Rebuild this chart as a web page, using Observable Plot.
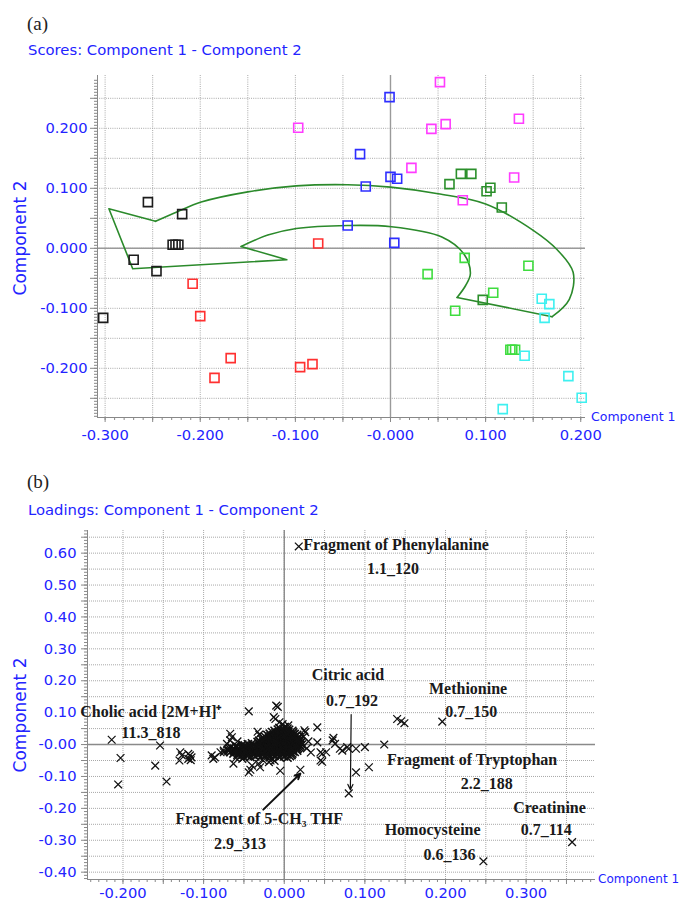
<!DOCTYPE html>
<html><head><meta charset="utf-8">
<script src="https://cdn.jsdelivr.net/npm/d3@7"></script>
<script src="https://cdn.jsdelivr.net/npm/@observablehq/plot@0.6"></script>
<style>
body{margin:0;background:#fff;}
#wrap{position:relative;width:681px;height:902px;overflow:hidden;background:#fff;}
#wrap > svg, #wrap > figure{position:absolute;left:0;margin:0;}
</style></head>
<body><div id="wrap"></div>
<script>
// ---------- Panel (a): scores ----------
const scoresBlack = [[-0.255,0.077],[-0.219,0.057],[-0.229,0.006],[-0.226,0.006],[-0.223,0.006],[-0.270,-0.019],[-0.246,-0.038],[-0.302,-0.116]];
const scoresRed = [[-0.208,-0.059],[-0.200,-0.113],[-0.168,-0.183],[-0.185,-0.216],[-0.095,-0.198],[-0.082,-0.193],[-0.076,0.008]];
const scoresBlue = [[-0.045,0.038],[-0.001,0.252],[-0.032,0.157],[0.000,0.119],[0.007,0.116],[-0.026,0.103],[0.004,0.009]];
const scoresMagenta = [[-0.097,0.201],[0.052,0.277],[0.043,0.199],[0.058,0.207],[0.135,0.216],[0.022,0.134],[0.130,0.118],[0.076,0.080]];
const scoresDarkGreen = [[0.062,0.107],[0.074,0.124],[0.085,0.124],[0.105,0.101],[0.101,0.095],[0.117,0.068],[0.097,-0.086]];
const scoresLime = [[0.078,-0.016],[0.039,-0.043],[0.145,-0.029],[0.108,-0.074],[0.068,-0.104],[0.126,-0.169],[0.128,-0.169],[0.131,-0.169]];
const scoresCyan = [[0.159,-0.084],[0.167,-0.093],[0.162,-0.116],[0.141,-0.179],[0.187,-0.213],[0.201,-0.249],[0.118,-0.268]];
const scoreGroups = [scoresBlack, scoresRed, scoresBlue, scoresMagenta, scoresDarkGreen, scoresLime, scoresCyan];
const scoreColors = ["#1c1c1c", "#ff3030", "#2e2eff", "#ff3cff", "#2b8f2b", "#3fdc3f", "#3ef0f0"];

// green arrow-shaped outline
const outlineOuterCurve = [[-0.247,0.045],[-0.224,0.061],[-0.199,0.077],[-0.150,0.094],[-0.099,0.104],[-0.045,0.106],[0.000,0.102],[0.050,0.091],[0.100,0.074],[0.150,0.030],[0.175,-0.002],[0.192,-0.040],[0.188,-0.085],[0.170,-0.114]];
const outlineInnerCurve = [[0.070,-0.082],[0.079,-0.062],[0.084,-0.042],[0.077,-0.009],[0.054,0.019],[0.001,0.036],[-0.045,0.038],[-0.099,0.033],[-0.129,0.022],[-0.157,0.003]];
const outlineStraight1 = [[0.170,-0.114],[0.070,-0.082]];
const outlineStraight2 = [[-0.157,0.003],[-0.109,-0.019],[-0.271,-0.034],[-0.296,0.066],[-0.247,0.045]];

const aXTicks = [-0.3,-0.2,-0.1,0,0.1,0.2];
const aXLabels = ["-0.300","-0.200","-0.100","-0.000","0.100","0.200"];
const aYTicks = [-0.2,-0.1,0,0.1,0.2];
const aYLabels = ["-0.200","-0.100","0.000","0.100","0.200"];
const aXDomain = [-0.308, 0.205];
const aYDomain = [-0.282, 0.288];

// ---------- Panel (b): loadings ----------
const loadingsCore = [
[-0.006,0.052],[0.000,0.054],[0.004,0.050],
[-0.008,0.047],[-0.001,0.048],[0.006,0.046],
[-0.012,0.043],[-0.004,0.044],[0.003,0.042],[0.010,0.043],
[-0.015,0.039],[-0.008,0.038],[-0.001,0.040],[0.005,0.039],[0.011,0.038],
[-0.018,0.034],[-0.011,0.035],[-0.005,0.033],[0.001,0.035],[0.007,0.034],[0.013,0.033],
[-0.021,0.030],[-0.014,0.029],[-0.007,0.031],[0.000,0.030],[0.005,0.029],[0.011,0.031],[0.016,0.030],
[-0.024,0.025],[-0.017,0.026],[-0.010,0.024],[-0.004,0.026],[0.002,0.025],[0.008,0.024],[0.014,0.026],[0.018,0.024],
[-0.026,0.021],[-0.019,0.020],[-0.012,0.022],[-0.006,0.021],[0.000,0.020],[0.006,0.022],[0.012,0.021],[0.017,0.020],
[-0.028,0.017],[-0.021,0.016],[-0.015,0.018],[-0.008,0.017],[-0.002,0.016],[0.004,0.018],[0.010,0.017],[0.016,0.016],[0.020,0.018],
[-0.031,0.012],[-0.024,0.013],[-0.017,0.011],[-0.010,0.012],[-0.004,0.013],[0.002,0.011],[0.008,0.012],[0.014,0.013],[0.019,0.011],
[-0.033,0.008],[-0.026,0.009],[-0.019,0.007],[-0.013,0.008],[-0.007,0.009],[-0.001,0.007],[0.005,0.008],[0.011,0.009],[0.017,0.007],[0.021,0.008],
[-0.040,0.004],[-0.029,0.005],[-0.022,0.003],[-0.016,0.004],[-0.009,0.005],[-0.003,0.003],[0.003,0.004],[0.009,0.005],[0.015,0.003],[0.020,0.004],
[-0.052,0.000],[-0.045,0.001],[-0.038,-0.001],[-0.031,0.000],[-0.024,0.001],[-0.018,-0.001],[-0.012,0.000],[-0.006,0.001],[0.000,-0.001],[0.006,0.000],[0.012,0.001],[0.018,-0.001],[0.022,0.000],
[-0.060,-0.004],[-0.049,-0.003],[-0.042,-0.005],[-0.035,-0.004],[-0.027,-0.003],[-0.021,-0.005],[-0.015,-0.004],[-0.009,-0.003],[-0.003,-0.005],[0.003,-0.004],[0.009,-0.003],[0.015,-0.005],[0.020,-0.004],
[-0.066,-0.008],[-0.059,-0.007],[-0.053,-0.009],[-0.046,-0.008],[-0.040,-0.007],[-0.034,-0.009],[-0.028,-0.008],[-0.022,-0.007],[-0.016,-0.009],[-0.010,-0.008],[-0.004,-0.007],[0.002,-0.009],[0.008,-0.008],[0.014,-0.007],[0.019,-0.009],
[-0.068,-0.012],[-0.062,-0.013],[-0.056,-0.011],[-0.049,-0.012],[-0.043,-0.013],[-0.037,-0.011],[-0.031,-0.012],[-0.025,-0.013],[-0.019,-0.011],[-0.013,-0.012],[-0.007,-0.013],[-0.001,-0.011],[0.005,-0.012],[0.011,-0.013],[0.017,-0.011],
[-0.070,-0.016],[-0.063,-0.017],[-0.057,-0.015],[-0.050,-0.016],[-0.044,-0.017],[-0.038,-0.015],[-0.032,-0.016],[-0.026,-0.017],[-0.020,-0.015],[-0.014,-0.016],[-0.008,-0.017],[-0.002,-0.015],[0.004,-0.016],[0.010,-0.017],[0.016,-0.015],
[-0.069,-0.020],[-0.062,-0.021],[-0.056,-0.019],[-0.049,-0.020],[-0.043,-0.021],[-0.037,-0.019],[-0.031,-0.020],[-0.025,-0.021],[-0.019,-0.019],[-0.013,-0.020],[-0.007,-0.021],[-0.001,-0.019],[0.005,-0.020],[0.011,-0.021],[0.016,-0.019],
[-0.067,-0.024],[-0.060,-0.023],[-0.054,-0.025],[-0.047,-0.024],[-0.041,-0.023],[-0.035,-0.025],[-0.029,-0.024],[-0.023,-0.023],[-0.017,-0.025],[-0.011,-0.024],[-0.005,-0.023],[0.001,-0.025],[0.007,-0.024],[0.013,-0.023],
[-0.063,-0.028],[-0.057,-0.027],[-0.051,-0.029],[-0.044,-0.028],[-0.038,-0.027],[-0.032,-0.029],[-0.026,-0.028],[-0.020,-0.027],[-0.014,-0.029],[-0.008,-0.028],[-0.002,-0.027],[0.004,-0.029],[0.010,-0.028],
[-0.058,-0.032],[-0.051,-0.031],[-0.045,-0.033],[-0.039,-0.032],[-0.033,-0.031],[-0.027,-0.033],[-0.021,-0.032],[-0.015,-0.031],[-0.009,-0.033],[-0.003,-0.032],[0.003,-0.031],[0.009,-0.033],
[-0.054,-0.036],[-0.046,-0.035],[-0.036,-0.037],[-0.024,-0.036],[-0.012,-0.035],[0.000,-0.037],[0.007,-0.036],
[-0.050,-0.040],[-0.042,-0.039],[-0.030,-0.041],[-0.018,-0.040],[-0.006,-0.039],[0.004,-0.041]
];
const loadingsScatter = [
[0.018,0.621],[-0.214,0.015],[-0.203,-0.042],[-0.206,-0.125],[-0.154,-0.003],[-0.160,-0.066],[-0.146,-0.116],
[-0.129,-0.024],[-0.127,-0.034],[-0.130,-0.050],[-0.119,-0.029],[-0.117,-0.034],[-0.119,-0.045],[-0.115,-0.040],[-0.116,-0.049],
[-0.090,-0.034],[-0.088,-0.045],[-0.086,-0.040],[-0.079,-0.024],[-0.075,-0.024],[-0.075,-0.019],
[-0.067,0.034],[-0.065,0.023],[-0.067,0.013],[-0.071,0.002],[-0.063,-0.060],[-0.044,0.104],
[-0.042,-0.079],[-0.044,-0.087],[-0.032,-0.060],[-0.030,-0.071],[-0.040,-0.066],[-0.019,-0.055],[-0.017,-0.050],[-0.015,-0.045],
[-0.005,-0.082],[-0.012,-0.051],[-0.026,-0.050],[-0.031,0.031],[-0.033,0.040],
[-0.010,0.122],[-0.008,0.118],[-0.013,0.086],[-0.011,0.080],[-0.006,0.070],[-0.002,0.064],[0.001,0.056],[0.005,0.060],
[0.026,0.039],[0.024,0.025],[0.041,0.054],[0.041,0.007],[0.030,0.010],[0.028,-0.012],[0.033,-0.025],[0.025,0.045],
[0.045,-0.024],[0.047,-0.029],[0.052,-0.024],[0.045,-0.050],[0.047,-0.054],[0.060,0.013],[0.061,0.021],[0.063,0.002],
[0.069,-0.013],[0.072,-0.019],[0.078,-0.008],[0.080,-0.013],[0.089,-0.013],[0.100,-0.008],[0.124,0.000],
[0.089,-0.087],[0.105,-0.071],[0.080,-0.153],[0.020,-0.079],
[0.140,0.080],[0.145,0.073],[0.149,0.067],[0.196,0.072],[0.247,-0.366],[0.357,-0.306],
[-0.052,-0.045],[-0.060,-0.042],[-0.058,0.010]
];
const loadingsLabels = [
  {text:"Fragment of Phenylalanine", x:0.0235, y:0.611, anchor:"start"},
  {text:"1.1_120", x:0.135, y:0.536, anchor:"middle"},
  {text:"Citric acid", x:0.079, y:0.201, anchor:"middle"},
  {text:"0.7_192", x:0.084, y:0.122, anchor:"middle"},
  {text:"Methionine", x:0.228, y:0.160, anchor:"middle"},
  {text:"0.7_150", x:0.232, y:0.085, anchor:"middle"},
  {text:"Cholic acid [2M+H]\u207A", x:-0.253, y:0.085, anchor:"start"},
  {text:"11.3_818", x:-0.202, y:0.019, anchor:"start"},
  {text:"Fragment of Tryptophan", x:0.233, y:-0.063, anchor:"middle"},
  {text:"2.2_188", x:0.251, y:-0.138, anchor:"middle"},
  {text:"Creatinine", x:0.329, y:-0.213, anchor:"middle"},
  {text:"0.7_114", x:0.325, y:-0.285, anchor:"middle"},
  {text:"Homocysteine", x:0.184, y:-0.285, anchor:"middle"},
  {text:"0.6_136", x:0.205, y:-0.361, anchor:"middle"},
  {text:"Fragment of 5-CH\u2083 THF", x:-0.031, y:-0.248, anchor:"middle"},
  {text:"2.9_313", x:-0.055, y:-0.326, anchor:"middle"}
];
const loadingsArrows = [
  {x1:0.083, y1:0.094, x2:0.082, y2:-0.142, w:1.2},
  {x1:-0.026, y1:-0.204, x2:0.020, y2:-0.091, w:2}
];
const bXTicks = [-0.2,-0.1,0,0.1,0.2,0.3];
const bXLabels = ["-0.200","-0.100","0.000","0.100","0.200","0.300"];
const bYTicks = [-0.4,-0.3,-0.2,-0.1,0,0.1,0.2,0.3,0.4,0.5,0.6];
const bYLabels = ["-0.40","-0.30","-0.20","-0.10","-0.00","0.10","0.20","0.30","0.40","0.50","0.60"];
const bXDomain = [-0.244, 0.386];
const bYDomain = [-0.423, 0.671];

// ---------- helpers ----------
const BLUE = "#2323ff";
const GRIDC = "#a8a8a8";
const fmt = (ticks, labels) => { const m = new Map(ticks.map((t, i) => [t, labels[i]])); return d => m.get(d) ?? ""; };
const step = (a, b, s) => d3.range(Math.round(a / s), Math.round(b / s) + 1).map(k => +(k * s).toFixed(4));

// ---------- build panel a ----------
const scoreRows = scoreGroups.flatMap((g, gi) => g.map(([x, y]) => ({x, y, color: scoreColors[gi]})));
const curveRows = [
  ...outlineOuterCurve.map(([x, y]) => ({x, y, s: "outer"})),
  ...outlineInnerCurve.map(([x, y]) => ({x, y, s: "inner"}))
];
const straightRows = [
  ...outlineStraight1.map(([x, y]) => ({x, y, s: "a"})),
  ...outlineStraight2.map(([x, y]) => ({x, y, s: "b"}))
];

const plotA = Plot.plot({
  width: 681, height: 385,
  marginLeft: 97, marginRight: 96, marginTop: 15, marginBottom: 28,
  x: {domain: aXDomain}, y: {domain: aYDomain},
  color: {type: "identity"},
  style: {fontFamily: "DejaVu Sans", fontSize: "14.7px", background: "transparent", overflow: "visible"},
  marks: [
    Plot.gridX({ticks: step(-0.3, 0.2, 0.05), stroke: GRIDC, strokeOpacity: 1, strokeDasharray: "1,1.2"}),
    Plot.gridY({ticks: step(-0.25, 0.25, 0.05), stroke: GRIDC, strokeOpacity: 1, strokeDasharray: "1,1.2"}),
    Plot.ruleX([0], {stroke: "#9a9a9a", strokeWidth: 1.4}),
    Plot.ruleY([0], {stroke: "#9a9a9a", strokeWidth: 1.4}),
    Plot.ruleX([aXDomain[0]], {stroke: "#888"}),
    Plot.ruleY([aYDomain[0]], {stroke: "#888"}),
    Plot.axisY({ticks: step(-0.28, 0.28, 0.005), tickSize: 3, tickFormat: () => "", stroke: "#888", label: null}),
    Plot.axisY({ticks: step(-0.25, 0.25, 0.05), tickSize: 7, tickPadding: 3, tickFormat: fmt(aYTicks, aYLabels), stroke: "#888", fill: BLUE, label: null}),
    Plot.axisX({ticks: step(-0.30, 0.20, 0.01), tickSize: 3, tickFormat: () => "", stroke: "#888", label: null}),
    Plot.axisX({ticks: step(-0.30, 0.20, 0.05), tickSize: 5, tickPadding: 7, tickFormat: fmt(aXTicks, aXLabels), stroke: "#888", fill: BLUE, label: null}),
    Plot.line(curveRows, {x: "x", y: "y", z: "s", curve: "catmull-rom", stroke: "#2b8a2b", strokeWidth: 1.6}),
    Plot.line(straightRows, {x: "x", y: "y", z: "s", stroke: "#2b8a2b", strokeWidth: 1.6}),
    Plot.dot(scoreRows, {x: "x", y: "y", symbol: "square", r: 5.1, stroke: "color", fill: "none", strokeWidth: 1.6})
  ]
});
plotA.style.position = "absolute"; plotA.style.top = "60px"; plotA.style.left = "0px";

// ---------- build panel b ----------
const coreRows = loadingsCore.map(([x, y]) => ({x, y}));
const scatterRows = loadingsScatter.map(([x, y]) => ({x, y}));
const labelFont = {fontFamily: "Liberation Serif", fontWeight: "bold", fontSize: 16, fill: "#1a1a1a", lineAnchor: "bottom"};
const plotB = Plot.plot({
  width: 681, height: 382,
  marginLeft: 87, marginRight: 86, marginTop: 10, marginBottom: 23,
  x: {domain: bXDomain}, y: {domain: bYDomain},
  style: {fontFamily: "DejaVu Sans", fontSize: "14.7px", background: "transparent", overflow: "visible"},
  marks: [
    Plot.gridX({ticks: step(-0.2, 0.35, 0.05), stroke: GRIDC, strokeOpacity: 1, strokeDasharray: "1,1"}),
    Plot.gridY({ticks: step(-0.4, 0.65, 0.05), stroke: GRIDC, strokeOpacity: 1, strokeDasharray: "1,1"}),
    Plot.ruleX([0], {stroke: "#8a8a8a", strokeWidth: 1.4}),
    Plot.ruleY([0], {stroke: "#8a8a8a", strokeWidth: 1.4}),
    Plot.ruleX([bXDomain[0]], {stroke: "#888"}),
    Plot.ruleY([bYDomain[0]], {stroke: "#888"}),
    Plot.axisY({ticks: step(-0.42, 0.67, 0.01), tickSize: 3, tickFormat: () => "", stroke: "#888", label: null}),
    Plot.axisY({ticks: step(-0.4, 0.65, 0.05), tickSize: 6, tickPadding: 5, tickFormat: fmt(bYTicks, bYLabels), stroke: "#888", fill: BLUE, label: null}),
    Plot.axisX({ticks: step(-0.24, 0.38, 0.01), tickSize: 3, tickFormat: () => "", stroke: "#888", label: null}),
    Plot.axisX({ticks: step(-0.2, 0.35, 0.05), tickSize: 5, tickPadding: 3, tickFormat: fmt(bXTicks, bXLabels), stroke: "#888", fill: BLUE, label: null}),
    Plot.dot(coreRows, {x: "x", y: "y", symbol: "times", r: 3.8, stroke: "#111", strokeWidth: 1.6}),
    Plot.dot(scatterRows, {x: "x", y: "y", symbol: "times", r: 3.6, stroke: "#111", strokeWidth: 1.25}),
    Plot.arrow(loadingsArrows, {x1: "x1", y1: "y1", x2: "x2", y2: "y2", stroke: "#111", strokeWidth: d => d.w, headLength: 9, headAngle: 50}),
    Plot.text(loadingsLabels.filter(d => d.anchor === "start"), {x: "x", y: "y", text: "text", textAnchor: "start", ...labelFont}),
    Plot.text(loadingsLabels.filter(d => d.anchor === "middle"), {x: "x", y: "y", text: "text", textAnchor: "middle", ...labelFont})
  ]
});
plotB.style.position = "absolute"; plotB.style.top = "520px"; plotB.style.left = "0px";

const wrap = document.getElementById("wrap");
wrap.appendChild(plotA);
wrap.appendChild(plotB);

// ---------- overlay texts ----------
const overlayTexts = [
  {t: "(a)", x: 27, y: 30, size: 19, fam: "Liberation Serif", fill: "#222"},
  {t: "Scores: Component 1 - Component 2", x: 28, y: 54.5, size: 14.8, fam: "DejaVu Sans", fill: BLUE},
  {t: "Component 1", x: 591, y: 420.5, size: 12.5, fam: "DejaVu Sans", fill: BLUE},
  {t: "(b)", x: 27, y: 488, size: 19, fam: "Liberation Serif", fill: "#222"},
  {t: "Loadings: Component 1 - Component 2", x: 28, y: 514.5, size: 14.8, fam: "DejaVu Sans", fill: BLUE},
  {t: "Component 1", x: 598, y: 882.5, size: 12, fam: "DejaVu Sans", fill: BLUE}
];
const yTitles = [
  {t: "Component 2", cx: 26, cy: 238},
  {t: "Component 2", cx: 26, cy: 715}
];
const ov = d3.select(wrap).append("svg").attr("width", 681).attr("height", 902)
  .style("position", "absolute").style("left", 0).style("top", 0).style("pointer-events", "none");
ov.selectAll("text.o").data(overlayTexts).join("text").attr("class", "o")
  .attr("x", d => d.x).attr("y", d => d.y).attr("font-family", d => d.fam)
  .attr("font-size", d => d.size).attr("fill", d => d.fill).text(d => d.t);
ov.selectAll("text.yl").data(yTitles).join("text").attr("class", "yl")
  .attr("transform", d => `translate(${d.cx},${d.cy}) rotate(-90)`)
  .attr("text-anchor", "middle").attr("font-family", "DejaVu Sans").attr("font-size", 17)
  .attr("fill", BLUE).text(d => d.t);
</script>
</body></html>
